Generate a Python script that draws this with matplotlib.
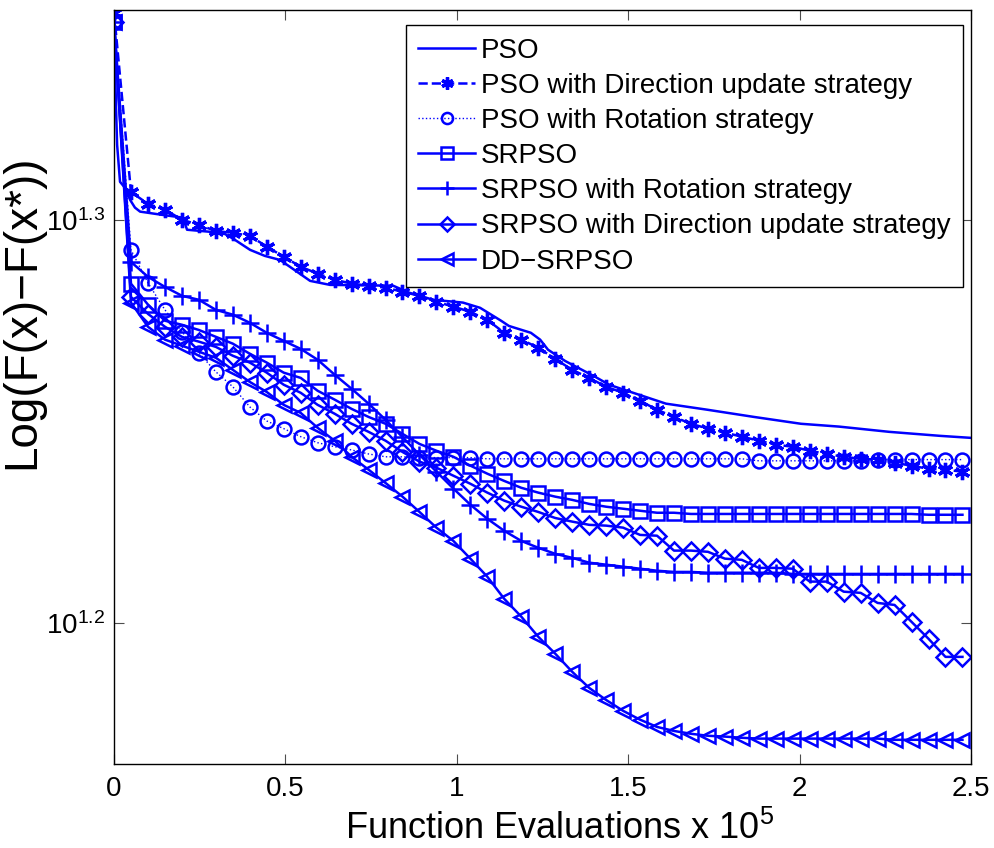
import numpy as np
import matplotlib
matplotlib.use("Agg")
from matplotlib import pyplot as plt
from matplotlib.ticker import FixedLocator, FixedFormatter, NullLocator

plt.rcParams['font.family'] = ['Liberation Sans', 'DejaVu Sans']
plt.rcParams['mathtext.default'] = 'regular'

# function evaluations (x 10^5), one sample per marker
fes = np.arange(51) * 0.0495

# log10(F(x)-F(x*))
pso_x = [0, 0.006, 0.009, 0.0175, 0.032, 0.047, 0.061, 0.076, 0.140, 0.201, 0.213, 0.318,
         0.347, 0.397, 0.440, 0.484, 0.513, 0.572, 0.630, 0.814, 0.863, 0.931, 1.018, 1.068,
         1.129, 1.152, 1.216, 1.243, 1.266, 1.316, 1.403, 1.444, 1.532, 1.610, 1.730, 1.867,
         2.004, 2.115, 2.261, 2.410, 2.5]
pso_log = [1.3494, 1.3275, 1.3188, 1.3096, 1.3081, 1.3051, 1.3032, 1.3022, 1.3014, 1.3007,
           1.2977, 1.2969, 1.2955, 1.2927, 1.2912, 1.2902, 1.2885, 1.2850, 1.2840, 1.2838,
           1.2820, 1.2803, 1.2796, 1.2783, 1.2751, 1.2738, 1.2721, 1.2704, 1.2679, 1.2651,
           1.2612, 1.2592, 1.2567, 1.2545, 1.2530, 1.2512, 1.2495, 1.2488, 1.2475, 1.2465,
           1.2460]

pso_dir_log = [1.3516, 1.3071, 1.3041, 1.3027, 1.3002, 1.2989, 1.2974, 1.2969, 1.2962, 1.2935,
               1.2910, 1.2885, 1.2868, 1.2853, 1.2843, 1.2838, 1.2833, 1.2823, 1.2813, 1.2798,
               1.2786, 1.2773, 1.2753, 1.2721, 1.2704, 1.2684, 1.2656, 1.2629, 1.2609, 1.2587,
               1.2572, 1.2552, 1.2530, 1.2512, 1.2495, 1.2483, 1.2473, 1.2463, 1.2453, 1.2443,
               1.2438, 1.2428, 1.2420, 1.2413, 1.2408, 1.2406, 1.2398, 1.2391, 1.2383, 1.2381,
               1.2376]

pso_rot_log = [1.3494, 1.2927, 1.2845, 1.2778, 1.2724, 1.2671, 1.2624, 1.2587, 1.2537, 1.2502,
               1.2483, 1.2463, 1.2448, 1.2438, 1.2430, 1.2420, 1.2413, 1.2413, 1.2411, 1.2411,
               1.2411, 1.2411, 1.2408, 1.2408, 1.2408, 1.2408, 1.2408, 1.2408, 1.2408, 1.2408,
               1.2408, 1.2408, 1.2408, 1.2408, 1.2408, 1.2408, 1.2408, 1.2408, 1.2403, 1.2403,
               1.2403, 1.2403, 1.2403, 1.2403, 1.2403, 1.2406, 1.2406, 1.2406, 1.2406, 1.2406,
               1.2406]

srpso_log = [1.3494, 1.2843, 1.2791, 1.2751, 1.2741, 1.2728, 1.2711, 1.2694, 1.2669, 1.2647,
             1.2622, 1.2609, 1.2577, 1.2555, 1.2532, 1.2512, 1.2495, 1.2470, 1.2445, 1.2428,
             1.2413, 1.2391, 1.2371, 1.2353, 1.2336, 1.2324, 1.2314, 1.2306, 1.2296, 1.2289,
             1.2284, 1.2279, 1.2274, 1.2274, 1.2271, 1.2271, 1.2271, 1.2271, 1.2271, 1.2271,
             1.2271, 1.2271, 1.2271, 1.2271, 1.2271, 1.2271, 1.2271, 1.2271, 1.2269, 1.2269,
             1.2269]

srpso_rot_log = [1.3494, 1.2897, 1.2860, 1.2835, 1.2813, 1.2803, 1.2778, 1.2766, 1.2746, 1.2721,
                 1.2701, 1.2681, 1.2654, 1.2617, 1.2582, 1.2545, 1.2505, 1.2462, 1.2418, 1.2376,
                 1.2334, 1.2294, 1.2259, 1.2229, 1.2204, 1.2187, 1.2172, 1.2162, 1.2150, 1.2145,
                 1.2140, 1.2135, 1.2130, 1.2127, 1.2127, 1.2125, 1.2125, 1.2125, 1.2125, 1.2125,
                 1.2122, 1.2122, 1.2122, 1.2122, 1.2122, 1.2122, 1.2122, 1.2122, 1.2122, 1.2122,
                 1.2122]

srpso_dir_log = [1.3494, 1.2810, 1.2768, 1.2736, 1.2711, 1.2699, 1.2686, 1.2664, 1.2647, 1.2622,
                 1.2592, 1.2572, 1.2542, 1.2520, 1.2495, 1.2475, 1.2453, 1.2425, 1.2401, 1.2386,
                 1.2366, 1.2346, 1.2324, 1.2304, 1.2289, 1.2276, 1.2261, 1.2252, 1.2244, 1.2242,
                 1.2237, 1.2219, 1.2217, 1.2180, 1.2180, 1.2177, 1.2160, 1.2157, 1.2137, 1.2137,
                 1.2135, 1.2103, 1.2103, 1.2078, 1.2075, 1.2050, 1.2045, 1.2003, 1.1961, 1.1916,
                 1.1916]

dd_srpso_log = [1.3494, 1.2796, 1.2736, 1.2704, 1.2689, 1.2674, 1.2659, 1.2629, 1.2599, 1.2574,
                1.2542, 1.2522, 1.2485, 1.2453, 1.2413, 1.2381, 1.2348, 1.2314, 1.2276, 1.2237,
                1.2204, 1.2160, 1.2115, 1.2060, 1.2016, 1.1966, 1.1924, 1.1879, 1.1839, 1.1809,
                1.1782, 1.1760, 1.1742, 1.1732, 1.1725, 1.1720, 1.1718, 1.1715, 1.1713, 1.1713,
                1.1713, 1.1713, 1.1713, 1.1713, 1.1713, 1.1713, 1.1710, 1.1710, 1.1710, 1.1710,
                1.1710]

labels = ['PSO', 'PSO with Direction update strategy', 'PSO with Rotation strategy', 'SRPSO',
          'SRPSO with Rotation strategy', 'SRPSO with Direction update strategy', 'DD\u2212SRPSO']

fig = plt.figure(figsize=(9.95, 8.48), dpi=100)
ax = fig.add_axes([0.1146, 0.0991, 0.8613, 0.8892])
ax.set_yscale('log')

blue = (0, 0, 1)
lw = 1.8
mk = dict(markersize=10, markeredgewidth=1.8, fillstyle='none')

ax.plot(pso_x, 10 ** np.array(pso_log), '-', color=blue, lw=lw, label=labels[0])
ax.plot(fes, 10 ** np.array(pso_dir_log), '--', marker=(6, 2, 0), color=blue, lw=lw,
        markersize=11, markeredgewidth=2.4, label=labels[1])
ax.plot(fes, 10 ** np.array(pso_rot_log), ':', marker='o', color=blue, lw=1.0, **mk, label=labels[2])
ax.plot(fes, 10 ** np.array(srpso_log), '-', marker='s', color=blue, lw=lw, **mk, label=labels[3])
ax.plot(fes, 10 ** np.array(srpso_rot_log), '-', marker='+', color=blue, lw=lw,
        markersize=13, markeredgewidth=1.8, label=labels[4])
ax.plot(fes, 10 ** np.array(srpso_dir_log), '-', marker='D', color=blue, lw=lw,
        markersize=9, markeredgewidth=1.8, fillstyle='none', label=labels[5])
ax.plot(fes, 10 ** np.array(dd_srpso_log), '-', marker='<', color=blue, lw=lw, **mk, label=labels[6])

ax.set_xlim(0, 2.5)
ax.set_ylim(10 ** 1.165, 10 ** 1.3523)
ax.set_xticks([0, 0.5, 1, 1.5, 2, 2.5])
ax.set_xticklabels(['0', '0.5', '1', '1.5', '2', '2.5'])
ax.yaxis.set_major_locator(FixedLocator([10 ** 1.2, 10 ** 1.3]))
ax.yaxis.set_major_formatter(FixedFormatter(['$10^{1.2}$', '$10^{1.3}$']))
ax.yaxis.set_minor_locator(NullLocator())
ax.tick_params(direction='in', top=True, right=True, length=7, width=0.8,
               labelsize=20, colors='0.3', labelcolor='black')
ax.tick_params(axis='x', pad=9)
ax.tick_params(axis='y', pad=6)
for s in ax.spines.values():
    s.set_linewidth(1.0)

ax.set_xlabel('Function Evaluations x $10^5$', fontsize=26)
ax.xaxis.set_label_coords(0.52, -0.062)
ax.set_ylabel('Log(F(x)\u2212F(x*))', fontsize=33)
ax.yaxis.set_label_coords(-0.082, 0.60)

leg = ax.legend(loc='upper right', bbox_to_anchor=(0.9907, 0.980), fontsize=20,
                frameon=True, fancybox=False, edgecolor='black', framealpha=1,
                handlelength=2.05, handletextpad=0.2, labelspacing=0.33,
                borderpad=0.45, borderaxespad=0, markerscale=0.8)
leg.get_frame().set_linewidth(1.0)

fig.savefig('out.png', dpi=100)
